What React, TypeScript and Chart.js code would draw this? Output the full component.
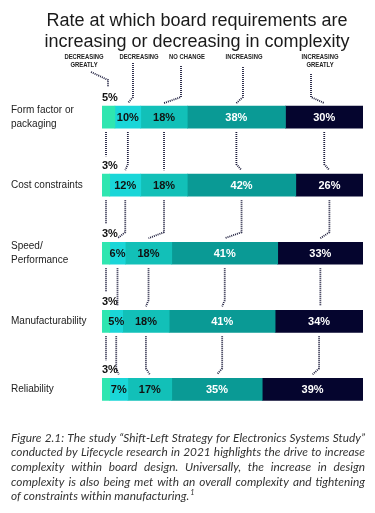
import React, { useEffect, useRef } from "react";
import { Chart, registerables } from "chart.js";

Chart.register(...registerables);

// ---------- data ----------
const categories: (string | string[])[] = [
  ["Form factor or", "packaging"],
  "Cost constraints",
  ["Speed/", "Performance"],
  "Manufacturability",
  "Reliability",
];
const seriesNames = ["Decreasing greatly", "Decreasing", "No change", "Increasing", "Increasing greatly"];
const headerLabels: string[][] = [
  ["DECREASING", "GREATLY"],
  ["DECREASING"],
  ["NO CHANGE"],
  ["INCREASING"],
  ["INCREASING", "GREATLY"],
];
const decreasingGreatly = [5, 3, 3, 3, 3];
const decreasing = [10, 12, 6, 5, 7];
const noChange = [18, 18, 18, 18, 17];
const increasing = [38, 42, 41, 41, 35];
const increasingGreatly = [30, 26, 33, 34, 39];
const seriesValues = [decreasingGreatly, decreasing, noChange, increasing, increasingGreatly];
const seriesColors = ["#2fe6b0", "#1ad6d8", "#12c0b8", "#0a9a95", "#05052e"];
const labelColors = ["#111111", "#111111", "#111111", "#ffffff", "#ffffff"];

const titleLines = ["Rate at which board requirements are", "increasing or decreasing in complexity"];
const captionLines = [
  "Figure 2.1: The study “Shift-Left Strategy for Electronics Systems Study”",
  "conducted by Lifecycle research in 2021 highlights the drive to increase",
  "complexity within board design. Universally, the increase in design",
  "complexity is also being met with an overall complexity and tightening",
  "of constraints within manufacturing.",
];
const captionSup = "1";

// ---------- layout constants (positions only) ----------
const W = 375;
const H = 513;
const headerCenters = [84, 139, 187, 244, 320];
const headerLineStarts = [
  [91, 72],
  [133, 63],
  [181, 66],
  [243, 67],
  [311, 74],
];

function dottedPath(ctx: CanvasRenderingContext2D, pts: number[][]) {
  ctx.beginPath();
  ctx.moveTo(pts[0][0], pts[0][1]);
  for (let i = 1; i < pts.length; i++) ctx.lineTo(pts[i][0], pts[i][1]);
  ctx.stroke();
}

const decorPlugin = {
  id: "decor",
  afterDraw(chart: any) {
    const ctx: CanvasRenderingContext2D = chart.ctx;
    ctx.save();

    // title
    ctx.fillStyle = "#1a1a1a";
    ctx.font = "18px 'Liberation Sans', Arial, sans-serif";
    ctx.textAlign = "center";
    ctx.textBaseline = "middle";
    ctx.fillText(titleLines[0], 197, 21);
    ctx.fillText(titleLines[1], 197, 42);

    // headers (condensed bold caps)
    ctx.fillStyle = "#222222";
    ctx.font = "bold 7px 'Liberation Sans', Arial, sans-serif";
    headerLabels.forEach((lines, j) => {
      lines.forEach((t, k) => {
        ctx.save();
        ctx.translate(headerCenters[j], 57 + k * 8.5);
        ctx.scale(0.84, 1);
        ctx.textAlign = "center";
        ctx.textBaseline = "middle";
        ctx.fillText(t, 0, 0);
        ctx.restore();
      });
    });

    // gather bar geometry
    const metas = seriesValues.map((_, d) => chart.getDatasetMeta(d));
    const geo = metas.map((m: any) =>
      m.data.map((el: any) => {
        const p = el.getProps(["x", "y", "base", "height"], true);
        const l = Math.min(p.x, p.base);
        const r = Math.max(p.x, p.base);
        return { l, r, c: (l + r) / 2, top: p.y - p.height / 2, bottom: p.y + p.height / 2 };
      })
    );

    // dotted leader lines
    ctx.strokeStyle = "#1c1c3c";
    ctx.lineWidth = 1.8;
    ctx.setLineDash([1, 1]);
    const nCat = categories.length;
    // from headers to first bar
    const first = geo.map((g: any) => g[0]);
    dottedPath(ctx, [
      [headerLineStarts[0][0], headerLineStarts[0][1]],
      [first[0].l + 6, 80],
      [first[0].l + 6, first[0].top - 19],
    ]);
    for (let j = 1; j < seriesValues.length; j++) {
      const [sx, sy] = headerLineStarts[j];
      dottedPath(ctx, [
        [sx, sy],
        [sx, first[j].top - 9],
        [first[j].c, first[j].top - 3],
      ]);
    }
    // between bars
    for (let i = 0; i < nCat - 1; i++) {
      const a0 = geo[0][i];
      const b0 = geo[0][i + 1];
      dottedPath(ctx, [
        [a0.l + 4, a0.bottom + 4],
        [b0.l + 4, b0.top - 18],
      ]);
      for (let j = 1; j < seriesValues.length; j++) {
        const a = geo[j][i];
        const b = geo[j][i + 1];
        if (Math.abs(a.c - b.c) < 1.5) {
          dottedPath(ctx, [
            [a.c, a.bottom + 4],
            [a.c, b.top - 4],
          ]);
        } else {
          dottedPath(ctx, [
            [a.c, a.bottom + 4],
            [a.c, b.top - 10],
            [b.c, b.top - 4],
          ]);
        }
      }
    }
    ctx.setLineDash([]);

    // value labels
    ctx.font = "bold 11px 'Liberation Sans', Arial, sans-serif";
    ctx.textBaseline = "middle";
    for (let j = 0; j < seriesValues.length; j++) {
      for (let i = 0; i < nCat; i++) {
        const g = geo[j][i];
        const txt = seriesValues[j][i] + "%";
        if (j === 0) {
          ctx.fillStyle = "#111111";
          ctx.textAlign = "left";
          ctx.fillText(txt, g.l, g.top - 8.5);
        } else {
          ctx.fillStyle = labelColors[j];
          ctx.textAlign = "center";
          ctx.fillText(txt, g.c, (g.top + g.bottom) / 2 + 0.5);
        }
      }
    }

    // caption (justified, italic)
    const capSize = 12;
    const capFont = `italic ${capSize}px Lato, 'Open Sans', sans-serif`;
    ctx.font = capFont;
    ctx.fillStyle = "#333333";
    ctx.textAlign = "left";
    ctx.textBaseline = "middle";
    const capLeft = 11;
    const capRight = 365;
    const target = capRight - capLeft;
    const spaceW = ctx.measureText(" ").width;
    const naturals = captionLines.map((ln) => ctx.measureText(ln).width);
    const maxNat = Math.max(naturals[0], naturals[1], naturals[3]);
    const sx = Math.min(1, target / (maxNat + 4));
    captionLines.forEach((ln, i) => {
      const y = 438 + i * 14.6;
      const words = ln.split(" ");
      const wordWs = words.map((w) => ctx.measureText(w).width);
      const sumW = wordWs.reduce((a, b) => a + b, 0);
      const last = i === captionLines.length - 1;
      const gap = last ? spaceW : (target / sx - sumW) / (words.length - 1);
      ctx.save();
      ctx.translate(capLeft, y);
      ctx.scale(sx, 1);
      let x = 0;
      words.forEach((w, k) => {
        ctx.fillText(w, x, 0);
        x += wordWs[k] + gap;
      });
      if (last) {
        const endX = x - gap + 1;
        ctx.font = `italic ${capSize * 0.62}px Lato, 'Open Sans', sans-serif`;
        ctx.fillText(captionSup, endX, -4);
        ctx.font = capFont;
      }
      ctx.restore();
    });

    ctx.restore();
  },
};

export default function App() {
  const canvasRef = useRef<HTMLCanvasElement | null>(null);

  useEffect(() => {
    document.body.style.margin = "0";
    const canvas = canvasRef.current;
    if (!canvas) return;
    const chart = new Chart(canvas, {
      type: "bar",
      data: {
        labels: categories as any,
        datasets: seriesValues.map((vals, d) => ({
          label: seriesNames[d],
          data: vals,
          backgroundColor: seriesColors[d],
          borderWidth: 0,
          barThickness: 22,
        })),
      },
      options: {
        indexAxis: "y",
        responsive: false,
        devicePixelRatio: 1,
        animation: false,
        layout: { padding: { top: 83, left: 11, right: 12, bottom: 89.5 } },
        plugins: {
          legend: { display: false },
          tooltip: { enabled: false },
          title: { display: false },
        },
        scales: {
          x: { stacked: true, min: 0, max: 101, display: false },
          y: {
            stacked: true,
            grid: { display: false },
            border: { display: false },
            ticks: {
              crossAlign: "far",
              color: "#222222",
              font: { family: "'Liberation Sans', Arial, sans-serif", size: 10, lineHeight: 1.35 },
            },
            afterFit: (scale: any) => {
              scale.width = 91;
            },
          },
        },
      },
      plugins: [decorPlugin],
    } as any);
    return () => chart.destroy();
  }, []);

  return (
    <div style={{ width: W, height: H, position: "relative", background: "#ffffff" }}>
      <canvas ref={canvasRef} width={W} height={H} style={{ display: "block", width: W, height: H }} />
    </div>
  );
}
